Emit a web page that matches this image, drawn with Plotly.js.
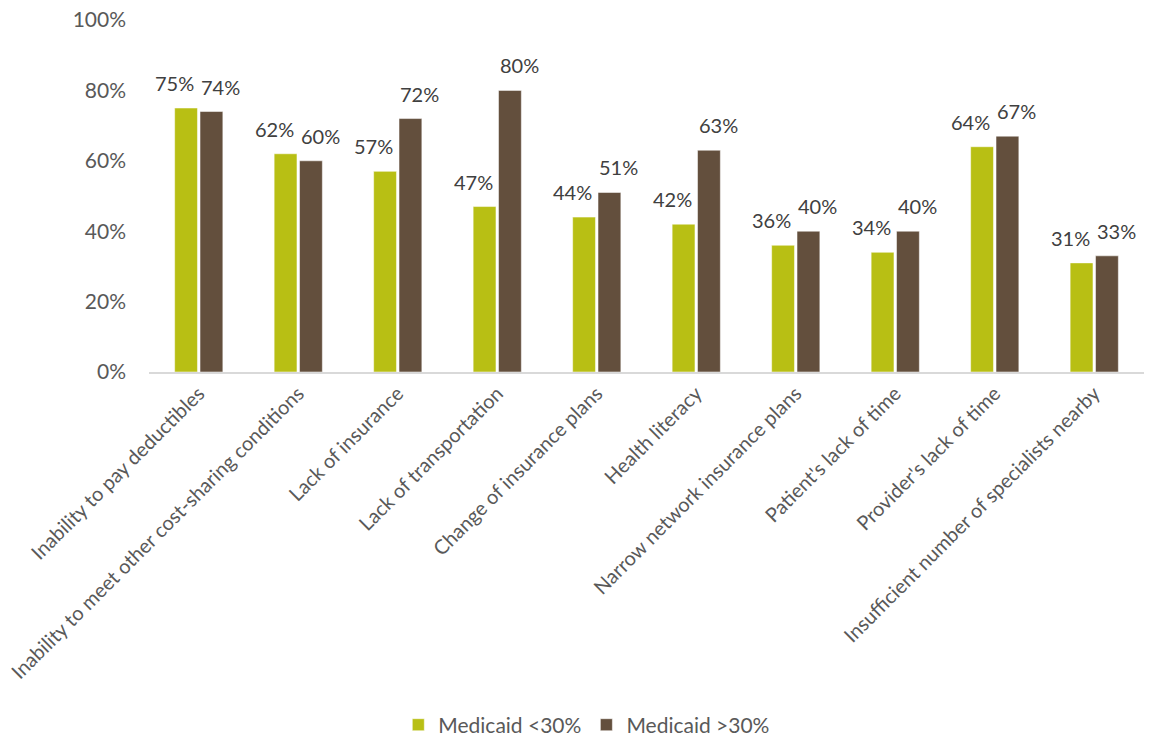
<!DOCTYPE html>
<html>
<head>
<meta charset="utf-8">
<script src="https://cdn.plot.ly/plotly-3.0.1.min.js"></script>
<style>html,body{margin:0;padding:0;background:#fff;}#chart{width:1158px;height:740px;}</style>
</head>
<body>
<div id="chart"></div>
<script>
const categories = [
  "Inability to pay deductibles",
  "Inability to meet other cost-sharing conditions",
  "Lack of insurance",
  "Lack of transportation",
  "Change of insurance plans",
  "Health literacy",
  "Narrow network insurance plans",
  "Patient's lack of time",
  "Provider's lack of time",
  "Insufficient number of specialists nearby"
];
const seriesNames = ["Medicaid <30%", "Medicaid >30%"];
const medicaidBelow30 = [75, 62, 57, 47, 44, 42, 36, 34, 64, 31];
const medicaidAbove30 = [74, 60, 72, 80, 51, 63, 40, 40, 67, 33];
const yTicks = [0, 20, 40, 60, 80, 100];

const FONT = "Lato, 'Open Sans', sans-serif";
const colors = ["#B8BF14", "#634F3D"];

const traces = [medicaidBelow30, medicaidAbove30].map((vals, i) => ({
  type: "bar",
  name: seriesNames[i],
  x: categories,
  y: vals,
  marker: {color: colors[i], line: {color: "rgba(255,255,255,0.5)", width: 1}},
  hoverinfo: "skip"
}));

const annotations = [];
[medicaidBelow30, medicaidAbove30].forEach((vals, i) => {
  vals.forEach((v, j) => {
    annotations.push({
      x: categories[j], y: v, xref: "x", yref: "y",
      text: v + "%", showarrow: false,
      xanchor: "center", yanchor: "bottom",
      xshift: i === 0 ? -24 : 22, yshift: 11,
      font: {family: FONT, size: 20, color: "#404040"}
    });
  });
});

const layout = {
  width: 1158, height: 740,
  margin: {l: 149, r: 14, t: 20, b: 368, autoexpand: false},
  paper_bgcolor: "#fff", plot_bgcolor: "#fff",
  barmode: "group", bargap: 0.49, bargroupgap: 0.1,
  font: {family: FONT, color: "#595959"},
  showlegend: true,
  legend: {
    orientation: "h", x: 0.44, xanchor: "center", y: -1.003, yanchor: "middle",
    font: {family: FONT, size: 21, color: "#595959"},
    itemwidth: 30
  },
  xaxis: {
    type: "category",
    tickangle: -45,
    tickfont: {family: FONT, size: 20, color: "#595959"},
    showline: true, linecolor: "#D9D9D9", linewidth: 2,
    ticks: "", showgrid: false, zeroline: false,
    automargin: false,
    fixedrange: true
  },
  yaxis: {
    range: [0, 100],
    tickvals: yTicks,
    ticktext: yTicks.map(t => t + "%"),
    tickfont: {family: FONT, size: 21, color: "#595959"},
    showgrid: false, zeroline: false, showline: false,
    ticks: "", ticklabelstandoff: 22,
    automargin: false,
    fixedrange: true
  },
  annotations: annotations
};

Plotly.newPlot("chart", traces, layout, {displayModeBar: false, staticPlot: true});
</script>
</body>
</html>
